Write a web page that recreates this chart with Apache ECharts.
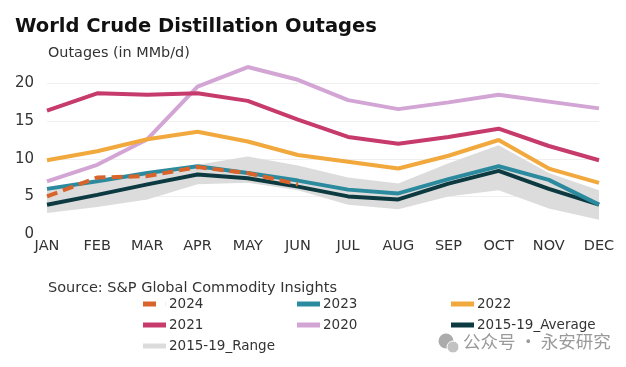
<!DOCTYPE html>
<html>
<head>
<meta charset="utf-8">
<script src="https://cdn.jsdelivr.net/npm/echarts@6/dist/echarts.min.js"></script>
<style>
html,body{margin:0;padding:0;background:#fff;}
#c{width:626px;height:367px;}
</style>
</head>
<body>
<div id="c"></div>
<script>
var months = ['JAN','FEB','MAR','APR','MAY','JUN','JUL','AUG','SEP','OCT','NOV','DEC'];
var yTicks = [0, 5, 10, 15, 20];
var s2024 = [5.0, 7.5, 7.7, 8.9, 8.1, 6.6, null, null, null, null, null, null];
var s2023 = [6.0, 7.0, 8.1, 9.0, 8.1, 7.1, 5.9, 5.4, 7.3, 9.0, 7.2, 3.9];
var s2022 = [9.8, 11.0, 12.6, 13.6, 12.3, 10.5, 9.6, 8.7, 10.4, 12.5, 8.7, 6.8];
var s2021 = [16.4, 18.7, 18.5, 18.7, 17.7, 15.2, 12.9, 12.0, 12.9, 14.0, 11.7, 9.8];
var s2020 = [7.0, 9.2, 12.6, 19.6, 22.2, 20.5, 17.8, 16.6, 17.5, 18.5, 17.6, 16.7];
var sAvg = [3.9, 5.2, 6.6, 7.9, 7.4, 6.3, 5.0, 4.6, 6.7, 8.4, 6.0, 3.9];
var rangeLow = [2.8, 3.6, 4.6, 6.6, 6.8, 5.8, 3.9, 3.3, 5.0, 5.8, 3.4, 1.9];
var rangeHigh = [5.9, 6.9, 8.2, 9.2, 10.3, 9.1, 7.5, 6.7, 9.4, 11.8, 8.1, 5.8];

var C = {
  '2024': '#D8642B',
  '2023': '#2B8A9D',
  '2022': '#F1A83D',
  '2021': '#C63B6B',
  '2020': '#D2A5D5',
  'avg': '#0D3A40',
  'range': '#DCDCDC'
};
var FONT = 'DejaVu Sans';
var rangeDiff = rangeHigh.map(function (v, i) { return +(v - rangeLow[i]).toFixed(2); });

function lineSeries(name, data, color, z, dashed) {
  return {
    name: name, type: 'line', data: data, symbol: 'none', z: z,
    lineStyle: { color: color, width: 4, type: dashed ? [11, 6] : 'solid' },
    itemStyle: { color: color },
    emphasis: { disabled: true },
    connectNulls: false
  };
}

function legendItem(name, color, icon) {
  return { name: name, icon: icon || 'path://M0 0H23V5H0Z', itemStyle: { color: color, borderWidth: 0 } };
}

function mkLegend(left, data) {
  return {
    orient: 'vertical', left: left, top: 297, itemWidth: 23, itemHeight: 5, itemGap: 7,
    textStyle: { fontFamily: FONT, fontSize: 13.5, color: '#333', padding: [0, 0, 0, -2] },
    selectedMode: false, padding: 0, data: data
  };
}

var chart = echarts.init(document.getElementById('c'), null, { renderer: 'canvas' });
chart.setOption({
  animation: false,
  backgroundColor: '#fff',
  title: [
    { text: 'World Crude Distillation Outages', left: 15, top: 17, padding: 0,
      textStyle: { fontFamily: FONT, fontWeight: 'bold', fontSize: 19.5, color: '#111' } },
    { text: 'Outages (in MMb/d)', left: 48, top: 46, padding: 0,
      textStyle: { fontFamily: FONT, fontWeight: 'normal', fontSize: 14.4, color: '#333' } },
    { text: 'Source: S&P Global Commodity Insights', left: 48, top: 281, padding: 0,
      textStyle: { fontFamily: FONT, fontWeight: 'normal', fontSize: 14.5, color: '#333' } }
  ],
  legend: [
    mkLegend(143, [
      legendItem('2024', C['2024'], 'path://M0 0H13V5H0Z M22.9 0H23V5H22.9Z'),
      legendItem('2021', C['2021']),
      legendItem('2015-19_Range', C['range'])
    ]),
    mkLegend(297, [legendItem('2023', C['2023']), legendItem('2020', C['2020'])]),
    mkLegend(451, [legendItem('2022', C['2022']), legendItem('2015-19_Average', C['avg'])])
  ],
  grid: { left: 47, right: 27, top: 61, bottom: 133, containLabel: false },
  xAxis: {
    type: 'category', data: months, boundaryGap: false,
    axisLine: { show: false }, axisTick: { show: false },
    axisLabel: { fontFamily: FONT, fontSize: 14.5, color: '#333', margin: 5, interval: 0 }
  },
  yAxis: {
    type: 'value', min: 0, max: 23, interval: 5,
    axisLine: { show: false }, axisTick: { show: false },
    axisLabel: {
      fontFamily: FONT, fontSize: 15, color: '#333', margin: 13,
      formatter: function (v) { return yTicks.indexOf(v) >= 0 ? String(v) : ''; }
    },
    splitLine: { lineStyle: { color: ['transparent', '#EFEFEF', '#EFEFEF', '#EFEFEF', '#EFEFEF', 'transparent'], width: 1 } }
  },
  graphic: [
    { type: 'text', left: 463, top: 333,
      style: { text: '\u516C\u4F17\u53F7 \u00B7 \u6C38\u5B89\u7814\u7A76', fontFamily: 'Noto Sans CJK SC', fontSize: 17.5, fill: '#9a9a9a' } },
    { type: 'circle', shape: { cx: 446, cy: 341, r: 7.5 }, style: { fill: '#ababab' } },
    { type: 'circle', shape: { cx: 453, cy: 347, r: 6 }, style: { fill: '#c2c2c2', stroke: '#fff', lineWidth: 1 } }
  ],
  series: [
    { name: '_rangeLow', type: 'line', data: rangeLow, stack: 'rng', symbol: 'none',
      lineStyle: { width: 0, opacity: 0 }, areaStyle: { opacity: 0 }, z: 1, silent: true, emphasis: { disabled: true } },
    { name: '2015-19_Range', type: 'line', data: rangeDiff, stack: 'rng', symbol: 'none',
      lineStyle: { width: 0, opacity: 0 }, itemStyle: { color: C['range'] },
      areaStyle: { color: C['range'], opacity: 1 }, z: 1, silent: true, emphasis: { disabled: true } },
    lineSeries('2020', s2020, C['2020'], 2),
    lineSeries('2021', s2021, C['2021'], 3),
    lineSeries('2022', s2022, C['2022'], 4),
    lineSeries('2015-19_Average', sAvg, C['avg'], 5),
    lineSeries('2023', s2023, C['2023'], 6),
    lineSeries('2024', s2024, C['2024'], 7, true)
  ]
});
</script>
</body>
</html>
